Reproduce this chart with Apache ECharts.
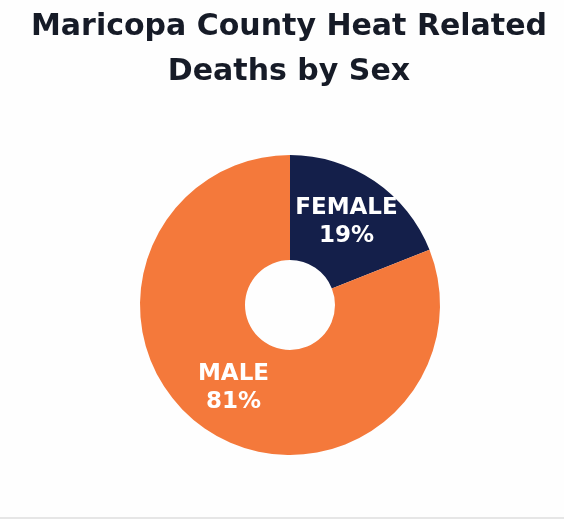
<!DOCTYPE html>
<html>
<head>
<meta charset="utf-8">
<script src="https://cdn.jsdelivr.net/npm/echarts@6/dist/echarts.min.js"></script>
<style>
	html,body{margin:0;padding:0;background:#fefefe;}
	#chart{width:564px;height:517px;}
	.line{width:564px;height:2px;background:#e6e6e6;}
</style>
</head>
<body>
<div id="chart"></div>
<div class="line"></div>
<script>
var sexes=['FEMALE','MALE'];
var shares=[19,81];
var colors=['#141f4a','#f4793b'];

var myChart=echarts.init(document.getElementById('chart'));
var data=[];
for(var i=0;i<sexes.length;i++){
	data.push({name:sexes[i],value:shares[i],itemStyle:{color:colors[i]}});
}
var option={
	backgroundColor:'#fefefe',
	title:{
		text:'Maricopa County Heat Related\nDeaths by Sex',
		left:284,
		textAlign:'center',
		top:0,
		textStyle:{
			color:'#161b27',
			fontFamily:'DejaVu Sans',
			fontWeight:'bold',
			fontSize:30,
			lineHeight:45
		}
	},
	series:[
		{
			type:'pie',
			radius:[45,150],
			center:[290,305],
			startAngle:90,
			clockwise:true,
			animation:false,
			silent:true,
			label:{
				position:'inside',
				color:'#fff',
				fontFamily:'DejaVu Sans',
				fontWeight:'bold',
				fontSize:23,
				lineHeight:28,
				formatter:function(p){return p.name+'\n'+p.value+'%';}
			},
			labelLine:{show:false},
			data:data
		}
	]
};
myChart.setOption(option);
</script>
</body>
</html>
